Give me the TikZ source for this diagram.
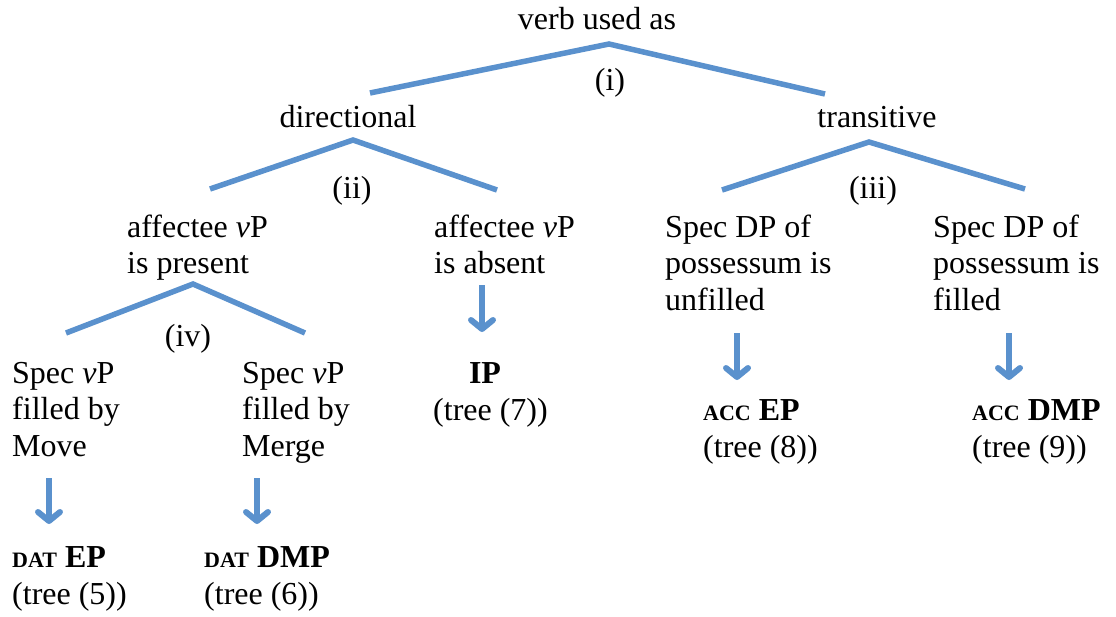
\documentclass[tikz,border=0pt]{standalone}
\usepackage{fontspec}
\setmainfont{Liberation Serif}
\usepackage{tikz}
\usetikzlibrary{arrows.meta}
\definecolor{branchblue}{RGB}{90,145,205}
\newcommand{\casemk}[1]{{\fontsize{22}{24}\selectfont\textbf{#1}}}

\begin{document}
\begin{tikzpicture}[x=1pt,y=-1pt]
\tikzset{>={Straight Barb[length=9pt,width=22pt,round]}}
\tikzstyle{txt} =[inner sep=0pt,align=left,font=\fontsize{32}{36.5}\selectfont]
\tikzstyle{branch} =[draw=branchblue,line width=5.5pt]
\tikzstyle{down} =[branch,line width=6pt,->]

\useasboundingbox (0,0) rectangle (1116,616);

\node[txt,anchor=base](verb) at (597,29){verb used as};
\node[txt,anchor=base](i) at (610,90){(i)};
\node[txt,anchor=base](dir) at (348,127){directional};
\node[txt,anchor=base](trans) at (877,127){transitive};
\node[txt,anchor=base](ii) at (352,198){(ii)};
\node[txt,anchor=base](iii) at (873,198){(iii)};
\node[txt,anchor=base west](present) at (127,273.5){affectee \textit{v}P\\is present};
\node[txt,anchor=base west](absent) at (434,273.5){affectee \textit{v}P\\is absent};
\node[txt,anchor=base west](unfilled) at (665,310){Spec DP of\\possessum is\\unfilled};
\node[txt,anchor=base west](filled) at (933,310){Spec DP of\\possessum is\\filled};
\node[txt,anchor=base](iv) at (188,346){(iv)};
\node[txt,anchor=base west](move) at (12,456){Spec \textit{v}P\\filled by\\Move};
\node[txt,anchor=base west](merge) at (242,456){Spec \textit{v}P\\filled by\\Merge};
\node[txt,anchor=base](ip) at (485,383){\textbf{IP}};
\node[txt,anchor=base west](tree7) at (433,420){(tree (7))};
\node[txt,anchor=base west](accep) at (703,457){\casemk{ACC} \textbf{EP}\\(tree (8))};
\node[txt,anchor=base west](accdmp) at (972,457){\casemk{ACC} \textbf{DMP}\\(tree (9))};
\node[txt,anchor=base west](datep) at (12,604){\casemk{DAT} \textbf{EP}\\(tree (5))};
\node[txt,anchor=base west](datdmp) at (204,604){\casemk{DAT} \textbf{DMP}\\(tree (6))};

\coordinate (a0) at (609,44);
\coordinate (a1) at (370,93);
\coordinate (a2) at (825,94);
\coordinate (b0) at (353,140);
\coordinate (b1) at (210,189);
\coordinate (b2) at (497,190);
\coordinate (c0) at (869,142);
\coordinate (c1) at (722,190);
\coordinate (c2) at (1025,189);
\coordinate (d0) at (193,284);
\coordinate (d1) at (66,333);
\coordinate (d2) at (305,333);

\draw [branch] (a1) -- (a0) -- (a2);
\draw [branch] (b1) -- (b0) -- (b2);
\draw [branch] (c1) -- (c0) -- (c2);
\draw [branch] (d1) -- (d0) -- (d2);

\coordinate (ipt) at (482,285);
\coordinate (iph) at (482,332);
\coordinate (ept) at (737,333);
\coordinate (eph) at (737,380);
\coordinate (dmpt) at (1009,333);
\coordinate (dmph) at (1009,380);
\coordinate (mvt) at (49,478);
\coordinate (mvh) at (49,524);
\coordinate (mgt) at (257,478);
\coordinate (mgh) at (257,524);

\draw [down] (ipt) to (iph);
\draw [down] (ept) to (eph);
\draw [down] (dmpt) to (dmph);
\draw [down] (mvt) to (mvh);
\draw [down] (mgt) to (mgh);
\end{tikzpicture}
\end{document}
